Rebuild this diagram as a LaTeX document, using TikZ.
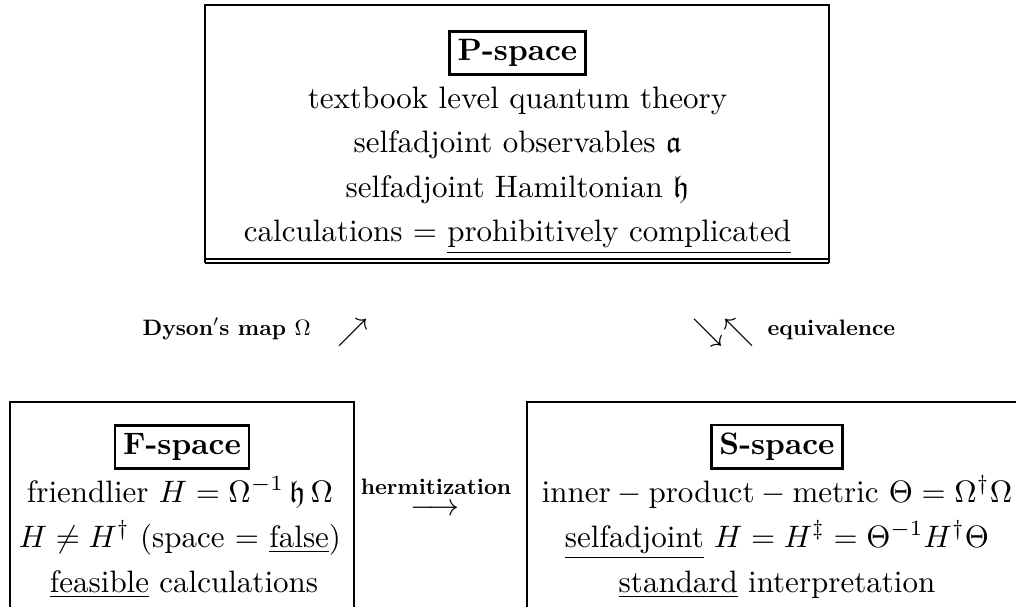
\documentclass[tikz,border=0pt]{standalone}
\usepackage{amssymb}
\usepackage{graphicx}
\begin{document}
\begin{tikzpicture}[x=0.32258pt,y=-0.32258pt,
  frame/.style={line width=0.85pt},
  thinrule/.style={line width=0.55pt},
  spacetitle/.style={draw,line width=0.85pt,inner sep=2.6pt,font=\bfseries,anchor=base},
  txt/.style={inner sep=0pt,anchor=base},
  lbl/.style={inner sep=0pt,font=\bfseries}]
\useasboundingbox (0,0) rectangle (1016,606);
\clip (0,0) rectangle (1016,606);

% ---------- P-space box ----------
\draw[frame] (205,259) -- (205,5) -- (829,5) -- (829,259);
\draw[thinrule] (205,259) -- (829,259);
\draw[thinrule] (205,263) -- (829,263);
\draw[thinrule] (205,259) -- (205,263);
\draw[thinrule] (829,259) -- (829,263);
\node[spacetitle] (ptitle) at (517.5,60.7) {P-space};
\node[txt] (p1) at (517.5,108) {textbook level quantum theory};
\node[txt] (p2) at (517.5,152.5) {selfadjoint observables $\mathfrak{a}$};
\node[txt] (p3) at (517.5,197) {selfadjoint Hamiltonian $\mathfrak{h}$};
\node[txt] (p4) at (517.5,241.5) {calculations $=$ \underline{prohibitively complicated}};

% ---------- middle arrows and labels ----------
\node[lbl,anchor=base west] (dyson) at (142,335) {\scalebox{0.72}{$\mathbf{Dyson's\ map}\ \Omega$}};
\node[txt] (ne) at (352.5,340) {$\nearrow$};
\node[txt] (senw) at (723.5,340) {$\searrow\nwarrow$};
\node[lbl,anchor=base west] (equiv) at (767,335) {\scalebox{0.72}{equivalence}};

% ---------- F-space box ----------
\draw[frame] (10,700) -- (10,402) -- (354,402) -- (354,700);
\node[spacetitle] (ftitle) at (182,454.7) {F-space};
\node[txt] (f1) at (180,502) {friendlier $H=\Omega^{-1}\,\mathfrak{h}\,\Omega$};
\node[txt] (f2) at (180,547) {$H\neq H^{\dagger}$ (space $=$ \underline{false})};
\node[txt] (f3) at (184,592) {\underline{feasible} calculations};

% ---------- hermitization ----------
\node[lbl,anchor=base,text depth=0pt] (herm) at (436,494) {\scalebox{0.72}{hermitization}};
\node[txt,text height=4pt] (harrow) at (435,515) {$\longrightarrow$};

% ---------- S-space box ----------
\draw[frame] (527,700) -- (527,402) -- (1100,402);
\node[spacetitle] (stitle) at (777,454.7) {S-space};
\node[txt] (s1) at (777,502) {$\mathrm{inner}-\mathrm{product}-\mathrm{metric}\ \Theta=\Omega^{\dagger}\Omega$};
\node[txt] (s2) at (777,547) {\underline{selfadjoint} $H=H^{\ddagger}=\Theta^{-1}H^{\dagger}\Theta$};
\node[txt] (s3) at (777,592) {\underline{standard} interpretation};
\end{tikzpicture}
\end{document}
